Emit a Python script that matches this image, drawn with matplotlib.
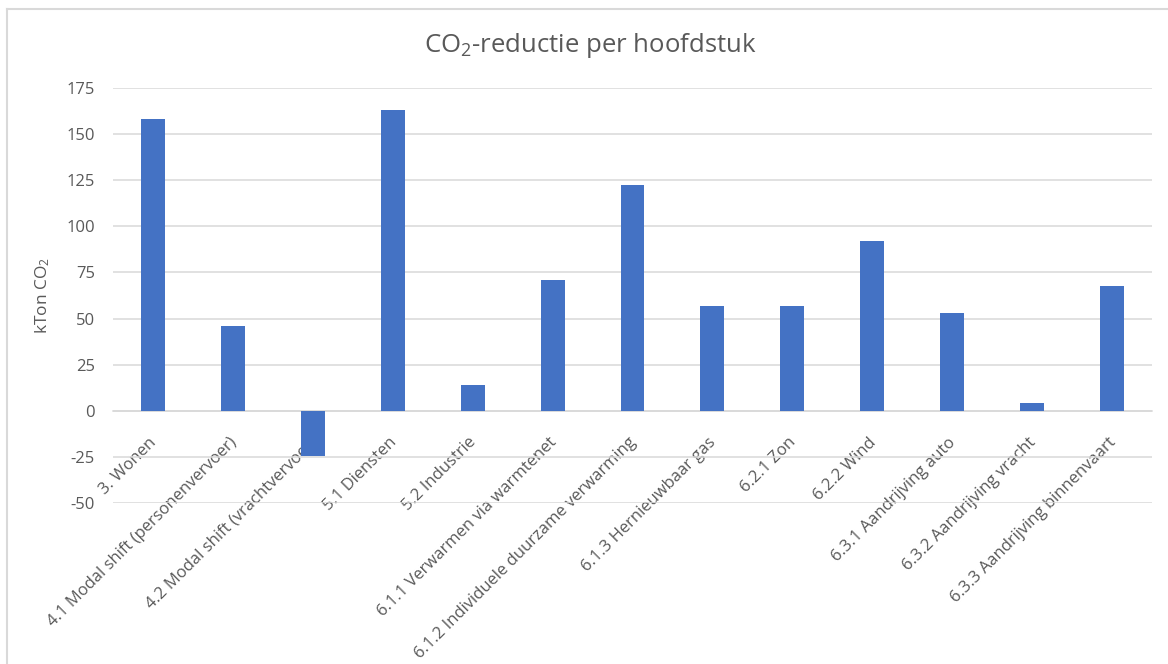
import matplotlib
matplotlib.use("Agg")
import matplotlib.pyplot as plt
from matplotlib.lines import Line2D
from matplotlib.transforms import ScaledTranslation

plt.rcParams["font.family"] = ["Open Sans", "DejaVu Sans"]
plt.rcParams["mathtext.fontset"] = "custom"
plt.rcParams["mathtext.rm"] = "Open Sans"
plt.rcParams["mathtext.default"] = "regular"

categories = [
    "3. Wonen",
    "4.1 Modal shift (personenvervoer)",
    "4.2 Modal shift (vrachtvervoer)",
    "5.1 Diensten",
    "5.2 Industrie",
    "6.1.1 Verwarmen via warmtenet",
    "6.1.2 Individuele duurzame verwarming",
    "6.1.3 Hernieuwbaar gas",
    "6.2.1 Zon",
    "6.2.2 Wind",
    "6.3.1 Aandrijving auto",
    "6.3.2 Aandrijving vracht",
    "6.3.3 Aandrijving binnenvaart",
]
reductie = [158, 46, -24.5, 163, 14, 71, 122.5, 57, 57, 92, 53, 4, 67.5]
y_ticks = [-50, -25, 0, 25, 50, 75, 100, 125, 150, 175]

BAR = "#4472C4"
GRID = "#D9D9D9"
TXT = "#595959"

W, H = 1168, 664
fig = plt.figure(figsize=(W / 100, H / 100), dpi=100)
ax = fig.add_axes([113 / W, 1 - 503 / H, (1152 - 113) / W, (503 - 88) / H])

x = list(range(len(categories)))
ax.bar(x, reductie, width=0.3, color=BAR, zorder=3)

ax.set_xlim(-0.5, len(categories) - 0.5)
ax.set_ylim(y_ticks[0], y_ticks[-1])
ax.set_yticks(y_ticks)
ax.set_yticklabels([str(v) for v in y_ticks], fontsize=12, color=TXT)
ax.tick_params(axis="y", length=0, pad=13)
ax.grid(axis="y", color=GRID, lw=1.1, zorder=0)

for s in ["top", "right", "left"]:
    ax.spines[s].set_visible(False)
ax.spines["bottom"].set_position(("data", 0))
ax.spines["bottom"].set_color(GRID)
ax.spines["bottom"].set_linewidth(1.1)

ax.set_xticks(x)
ax.set_xticklabels(categories, rotation=45, ha="right", rotation_mode="anchor",
                   fontsize=12, color=TXT)
ax.tick_params(axis="x", length=0, pad=17)
# shift category labels slightly left of their ticks
nudge = ScaledTranslation(-3 / 72, 0, fig.dpi_scale_trans)
for lbl in ax.get_xticklabels():
    lbl.set_transform(lbl.get_transform() + nudge)

ax.set_ylabel("kTon CO$_2$", fontsize=12.5, color=TXT, labelpad=10)
fig.text(590 / W, 1 - 45 / H, "CO$_2$-reductie per hoofdstuk", ha="center",
         va="center", fontsize=18.5, color=TXT)

# chart frame (only top and left edges fall inside the canvas)
fig.add_artist(Line2D([7 / W, 1], [1 - 9 / H, 1 - 9 / H], color=GRID, lw=1.5))
fig.add_artist(Line2D([7 / W, 7 / W], [0, 1 - 9 / H], color=GRID, lw=1.5))

fig.savefig("out.png", dpi=100)
